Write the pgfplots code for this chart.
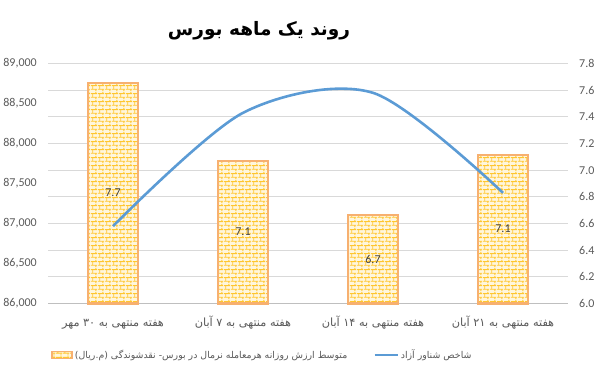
\documentclass[border=0pt]{standalone}
\usepackage{fontspec}
\setmainfont{Carlito}
\newfontfamily\arabicfont[Script=Arabic]{DejaVu Sans}
\TeXXeTstate=1
\usepackage{pgfplots}
\pgfplotsset{compat=1.18}
\usetikzlibrary{patterns.meta}

\definecolor{lineblue}{HTML}{5B9BD5}
\definecolor{gridgray}{HTML}{D9D9D9}
\definecolor{axisgray}{HTML}{BFBFBF}
\definecolor{labgray}{HTML}{595959}
\definecolor{brickline}{HTML}{FFC62E}
\definecolor{brickedge}{HTML}{F7B070}
\definecolor{brickfill}{HTML}{FFF6DC}

\tikzdeclarepattern{
  name=mybricks, type=uncolored,
  bounding box={(0pt,0pt) and (7pt,8pt)},
  tile size={(7pt,8pt)},
  line width=1.3pt,
  code={
    \draw (0pt,2pt) -- (7pt,2pt);
    \draw (0pt,6pt) -- (7pt,6pt);
    \draw (2pt,2pt) -- (2pt,6pt);
    \draw (5.5pt,6pt) -- (5.5pt,8pt);
    \draw (5.5pt,0pt) -- (5.5pt,2pt);
  }
}

\pgfplotsset{
  barleg/.style={legend image code/.code={\draw[##1] (0pt,-3.5pt) rectangle (20pt,3.5pt);}},
  lineleg/.style={legend image code/.code={\draw[##1] (0pt,0pt) -- (23pt,0pt);}},
  brickbar/.style={preaction={fill=brickfill}, pattern=mybricks, pattern color=brickline,
    draw=brickedge, line width=2.2pt},
}

\begin{document}
\begin{tikzpicture}
\useasboundingbox (0,0) rectangle (601pt,371pt);
\node[font=\arabicfont\bfseries\fontsize{18.5}{22}\selectfont] at (259pt,340pt) {\beginR روند یک ماهه بورس\endR};
\begin{axis}[at={(48pt,67.5pt)}, anchor=south west, scale only axis,
  width=520pt, height=240pt,
  xmin=-0.5, xmax=3.5, ymin=86000, ymax=89000,
  axis x line*=bottom, axis y line*=left,
  y axis line style={draw=none},
  x axis line style={axisgray, line width=1.5pt},
  major tick length=0pt,
  scaled y ticks=false,
  ytick={86000,86500,87000,87500,88000,88500,89000},
  extra y ticks={86333.33,86666.67,87000,87333.33,87666.67,88000,88333.33,88666.67,89000},
  extra y tick labels={},
  extra y tick style={grid=major, major grid style={gridgray, line width=0.8pt}},
  yticklabel style={font=\fontsize{12}{14}\selectfont, color=labgray, inner sep=0pt,
    /pgf/number format/fixed, /pgf/number format/1000 sep={,}, /pgf/number format/assume math mode=true},
  yticklabel shift=11pt,
  xtick={0,1,2,3},
  xticklabels={{\beginR هفته منتهی به ۳۰ مهر\endR},{\beginR هفته منتهی به ۷ آبان\endR},{\beginR هفته منتهی به ۱۴ آبان\endR},{\beginR هفته منتهی به ۲۱ آبان\endR}},
  xticklabel style={font=\arabicfont\fontsize{11.3}{13}\selectfont, color=labgray, inner sep=0pt,
    text height=9pt, text depth=3pt},
  xticklabel shift=13.5pt,
  clip=false,
]
\addplot[ybar, bar width=49.8pt, brickbar]
  coordinates {(0,88752) (1,87781) (2,87106) (3,87852)};
\addplot[only marks, mark=none, nodes near coords, point meta=explicit symbolic,
  nodes near coords align={anchor=center},
  every node near coord/.append style={font=\fontsize{12}{14}\selectfont, color=black!75, inner sep=0pt}]
  coordinates {(0,87381)[7.7] (1,86894)[7.1] (2,86556)[6.7] (3,86931)[7.1]};
\end{axis}
\begin{axis}[at={(48pt,67.5pt)}, anchor=south west, scale only axis,
  width=520pt, height=240pt,
  xmin=-0.5, xmax=3.5, ymin=6, ymax=7.8,
  axis y line*=right, axis x line=none,
  y axis line style={draw=none},
  major tick length=0pt,
  ytick={6.0,6.2,6.4,6.6,6.8,7.0,7.2,7.4,7.6,7.8},
  yticklabel style={font=\fontsize{12}{14}\selectfont, color=labgray, inner sep=0pt,
    /pgf/number format/fixed, /pgf/number format/fixed zerofill, /pgf/number format/precision=1,
    /pgf/number format/assume math mode=true},
  yticklabel shift=11pt,
  legend columns=2,
  legend style={at={(0.4125,-0.215)}, anchor=center, draw=none, fill=none,
    font=\arabicfont\fontsize{9.4}{11}\selectfont, text=labgray,
    /tikz/every even column/.append style={column sep=24pt}},
]
\addlegendimage{barleg, brickbar, line width=1.5pt}
\addlegendentry{\beginR متوسط ارزش روزانه هرمعامله نرمال در بورس- نقدشوندگی (م.ریال)\endR}
\addplot[lineblue, line width=2.6pt, smooth, lineleg]
  coordinates {(0,6.58) (1,7.43) (2,7.58) (3,6.83)};
\addlegendentry{\beginR شاخص شناور آزاد\endR}
\end{axis}
\end{tikzpicture}
\end{document}
